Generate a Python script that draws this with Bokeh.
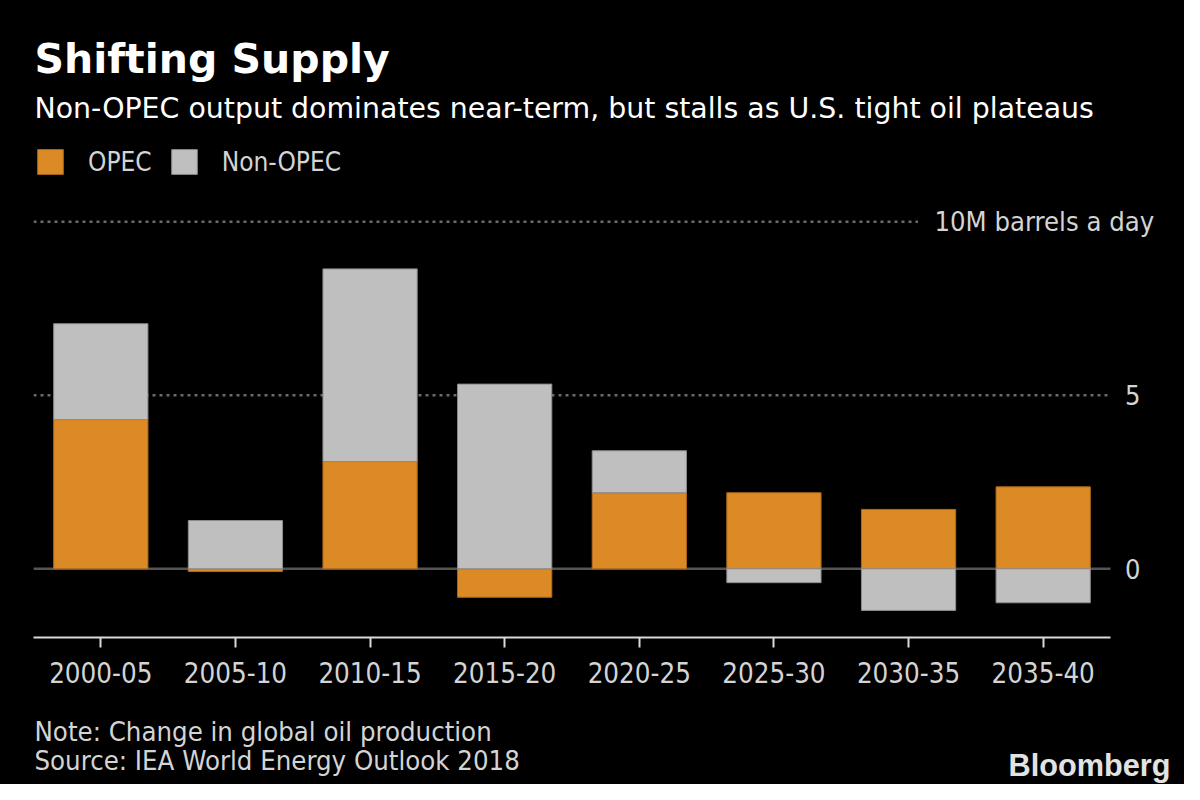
from bokeh.plotting import figure
from bokeh.layouts import column
from bokeh.models import (Range1d, FixedTicker, LinearAxis, ColumnDataSource,
                          Legend, LegendItem)
from bokeh.core.properties import value
from bokeh.embed import file_html
from bokeh.resources import INLINE

# ---------------- data ----------------
periods = ["2000-05", "2005-10", "2010-15", "2015-20",
           "2020-25", "2025-30", "2030-35", "2035-40"]
opec = [4.30, -0.08, 3.09, -0.82, 2.19, 2.19, 1.71, 2.36]
non_opec = [2.76, 1.39, 5.55, 5.32, 1.21, -0.40, -1.20, -0.98]
axis_ticks = [0, 5]
grid_ticks = [5]
unit_tick = [10]
series_names = ["OPEC", "Non-OPEC"]
title_text = "Shifting Supply"
subtitle_text = "Non-OPEC output dominates near-term, but stalls as U.S. tight oil plateaus"
unit_text = "10M barrels a day"
note_text = "Note: Change in global oil production"
source_text = "Source: IEA World Energy Outlook 2018"
brand_text = "Bloomberg"

# ---------------- style ----------------
ORANGE = "#DC8A25"
GRAY = "#BFBFBF"
TXT = "#D4D4D4"
COND = "DejaVu Sans Condensed, DejaVu Sans"
REG = "DejaVu Sans"
BLACK = {"background-color": "black"}
W = 1184
HEAD_H, MAIN_H, FOOT_H = 200, 505, 79
LEFT = 33
FRAME_H = 437
Y0, Y1 = -1.98, 10.61
N = len(periods)
X_END = N + (W - 1110) / 134.62          # room right of the bars for tick labels
GRID_STYLE = dict(line_color="#6a6a6a", line_dash="3 4", line_width=2.5)


def blank(height, y_top):
    f = figure(width=W, height=height, x_range=Range1d(LEFT, W),
               y_range=Range1d(y_top + height, y_top),
               output_backend="svg", toolbar_location=None,
               x_axis_location=None, y_axis_location=None,
               min_border_left=LEFT, min_border_right=0, min_border_top=0,
               min_border_bottom=0, background_fill_color="black",
               border_fill_color="black", outline_line_color=None, styles=BLACK)
    f.xgrid.visible = False
    f.ygrid.visible = False
    return f


# ---------------- header ----------------
head = blank(HEAD_H, 0)
head.text(x=[34], y=[58], text=[title_text], text_color="white",
          text_font=value(REG), text_font_style="bold", text_font_size="41px",
          text_baseline="middle")
head.text(x=[34], y=[108], text=[subtitle_text], text_color="white",
          text_font=value(REG), text_font_size="28.4px", text_baseline="middle")
# legend proxies (hidden; only their style is shown in the legend)
l_opec = head.vbar(x=[0], top=[1], width=1, fill_color=ORANGE, line_color="#B06A1E",
                   visible=False)
l_non = head.vbar(x=[0], top=[1], width=1, fill_color=GRAY, line_color="#8C8C8C",
                  visible=False)
legend = Legend(items=[LegendItem(label=series_names[0], renderers=[l_opec]),
                       LegendItem(label=series_names[1], renderers=[l_non])],
                orientation="horizontal", location=(1, 23),
                glyph_width=32, glyph_height=31, label_standoff=22, spacing=16,
                padding=0, margin=0, border_line_color=None,
                background_fill_alpha=0, label_text_color=TXT,
                label_text_font=COND, label_text_font_size="26px", label_height=25)
head.add_layout(legend, "center")

# ---------------- main chart ----------------
xpos = [i + 0.5 for i in range(N)]
opec_bottom = [0.0] * N
opec_top = list(opec)
non_bottom, non_top = [], []
for o, n in zip(opec, non_opec):
    if n >= 0:
        base = max(o, 0.0)
        non_bottom.append(base)
        non_top.append(base + n)
    else:
        base = min(o, 0.0)
        non_bottom.append(base + n)
        non_top.append(base)

src = ColumnDataSource(dict(x=xpos, period=periods, opec_bottom=opec_bottom,
                            opec_top=opec_top, non_bottom=non_bottom, non_top=non_top))

p = figure(width=W, height=MAIN_H, x_range=Range1d(0, X_END), y_range=Range1d(Y0, Y1),
           output_backend="svg", toolbar_location=None, y_axis_location=None,
           min_border_left=LEFT, min_border_right=0,
           min_border_top=0, min_border_bottom=MAIN_H - FRAME_H,
           background_fill_color="black", border_fill_color="black",
           outline_line_color=None, styles=BLACK)
p.xgrid.visible = False
p.ygrid.visible = False

# dotted gridlines (end at the last bar slot; the top one stops before its label)
p.segment(x0=[0] * len(grid_ticks), x1=[N] * len(grid_ticks), y0=grid_ticks,
          y1=grid_ticks, **GRID_STYLE)
p.segment(x0=[0] * len(unit_tick), x1=[6.57] * len(unit_tick), y0=unit_tick,
          y1=unit_tick, **GRID_STYLE)
# zero line
p.segment(x0=[0], x1=[N], y0=[0], y1=[0], line_color="#555555", line_width=2.5)

p.vbar(x="x", bottom="opec_bottom", top="opec_top", width=0.7, source=src,
       fill_color=ORANGE, line_color="#B06A1E", line_width=1)
p.vbar(x="x", bottom="non_bottom", top="non_top", width=0.7, source=src,
       fill_color=GRAY, line_color="#8C8C8C", line_width=1)

xa = p.xaxis[0]
xa.ticker = FixedTicker(ticks=xpos)
xa.major_label_overrides = {x: lab for x, lab in zip(xpos, periods)}
xa.bounds = (0, N)
xa.axis_line_color = "#DADADA"
xa.axis_line_width = 2
xa.major_tick_line_color = "#DADADA"
xa.major_tick_line_width = 2
xa.major_tick_in = 0
xa.major_tick_out = 10
xa.minor_tick_line_color = None
xa.major_label_text_color = TXT
xa.major_label_text_font = COND
xa.major_label_text_font_size = "27.5px"
xa.major_label_standoff = 14

# value labels right of the bars (axis on the left, labels pushed into place)
ya = LinearAxis(ticker=FixedTicker(ticks=axis_ticks), major_label_standoff=-1107,
                axis_line_color=None, major_tick_line_color=None,
                major_tick_in=0, major_tick_out=0,
                minor_tick_line_color=None, minor_tick_in=0, minor_tick_out=0,
                major_label_text_color=TXT,
                major_label_text_font=COND, major_label_text_font_size="27px")
p.add_layout(ya, "left")

# unit label for the top gridline
unit_axis = LinearAxis(ticker=FixedTicker(ticks=unit_tick),
                       major_label_overrides={unit_tick[0]: unit_text},
                       major_label_standoff=-250, axis_line_color=None,
                       major_tick_line_color=None, major_tick_in=0, major_tick_out=0,
                       minor_tick_line_color=None, minor_tick_in=0, minor_tick_out=0,
                       major_label_text_color=TXT, major_label_text_font=COND,
                       major_label_text_font_size="27.2px")
p.add_layout(unit_axis, "right")

# ---------------- footer ----------------
foot = blank(FOOT_H, HEAD_H + MAIN_H)
foot.text(x=[34, 34], y=[731, 760], text=[note_text, source_text], text_color=TXT,
          text_font=value(COND), text_font_size="27.3px", text_baseline="middle")
foot.text(x=[1170], y=[765], text=[brand_text], text_color="#E2E2E2",
          text_font=value("Liberation Sans"), text_font_style="bold",
          text_font_size="30.7px", text_align="right", text_baseline="middle")

layout = column(head, p, foot, spacing=0, styles=BLACK)
open("out.html", "w").write(file_html(layout, INLINE))
